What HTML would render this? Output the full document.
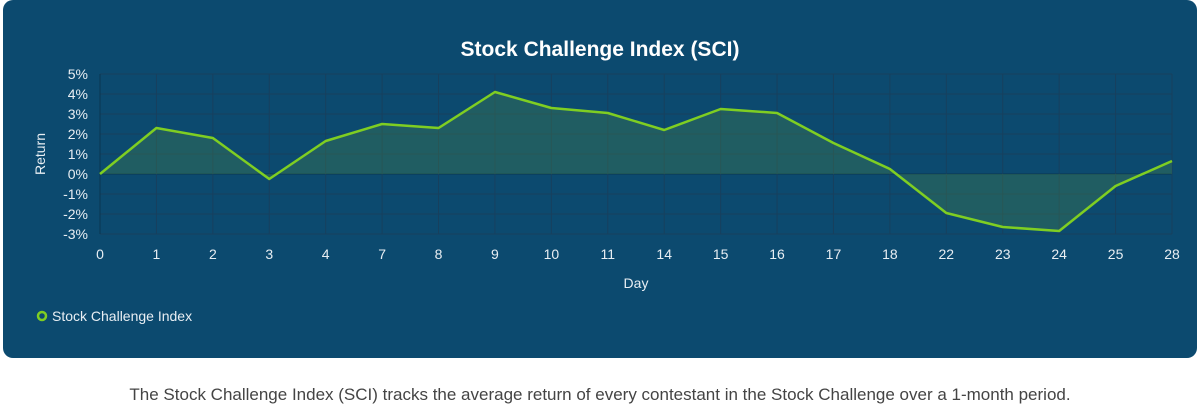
<!DOCTYPE html>
<html><head><meta charset="utf-8"><style>
html,body{margin:0;padding:0;background:#fff;width:1200px;height:406px;overflow:hidden;font-family:"Liberation Sans",sans-serif}
#card{position:absolute;left:3px;top:0;width:1194px;height:358px;background:#0c4a6f;border-radius:10px}
#caption{position:absolute;left:0;top:385px;width:1200px;text-align:center;font-size:17px;color:#444}
</style></head><body>
<div id="card"></div>
<svg id="chart" width="1200" height="370" style="position:absolute;left:0;top:0"></svg>
<div id="caption">The Stock Challenge Index (SCI) tracks the average return of every contestant in the Stock Challenge over a 1-month period.</div>
<script>
const categories=["0","1","2","3","4","7","8","9","10","11","14","15","16","17","18","22","23","24","25","28"];
const values=[0,2.3,1.8,-0.25,1.65,2.5,2.3,4.1,3.3,3.05,2.2,3.25,3.05,1.55,0.25,-1.95,-2.65,-2.85,-0.6,0.65];
const yTicks=[5,4,3,2,1,0,-1,-2,-3];
const NS="http://www.w3.org/2000/svg";
const svg=document.getElementById('chart');
const L=100,R=1172,T=74,B=234,yMax=5,yMin=-3;
const x=i=>L+i*(R-L)/(categories.length-1);
const y=v=>T+(yMax-v)*(B-T)/(yMax-yMin);
function mk(tag,a,parent){const e=document.createElementNS(NS,tag);for(const k in a)e.setAttribute(k,a[k]);(parent||svg).appendChild(e);return e;}
let t=mk('text',{x:600,y:56,'text-anchor':'middle',fill:'#fff','font-size':21,'font-weight':'bold'});
t.textContent='Stock Challenge Index (SCI)';


yTicks.forEach(v=>{
 const g=mk('line',{x1:L,x2:R,y1:y(v),y2:y(v),stroke:v===0?'#0a3550':'#17405e','stroke-width':1});
 
 
 const l=mk('text',{x:L-12,y:y(v)+5,'text-anchor':'end',fill:'#e8eef3','font-size':14});
 l.textContent=v+'%';
 
 
});
categories.forEach((c,i)=>{
 const g=mk('line',{x1:x(i),x2:x(i),y1:T,y2:B,stroke:i===0?'#0a3550':'#17405e','stroke-width':1});
 
 
 const l=mk('text',{x:x(i),y:B+25,'text-anchor':'middle',fill:'#e8eef3','font-size':14});
 l.textContent=c;
 
 
});
let yt=mk('text',{x:0,y:0,transform:'translate(45,154) rotate(-90)','text-anchor':'middle',fill:'#e8eef3','font-size':14});
yt.textContent='Return';


let xt=mk('text',{x:636,y:288,'text-anchor':'middle',fill:'#e8eef3','font-size':14});
xt.textContent='Day';


const pts=values.map((v,i)=>x(i)+','+y(v)).join(' ');
const area=mk('polygon',{points:x(0)+','+y(0)+' '+pts+' '+x(values.length-1)+','+y(0),fill:'rgba(80,140,70,0.3)'});


const line=mk('polyline',{points:pts,fill:'none',stroke:'#7fce22','stroke-width':2.5,'stroke-linejoin':'round'});


const lg=mk('circle',{cx:42,cy:316,r:4,fill:'none',stroke:'#7fce22','stroke-width':2.5});


const lt=mk('text',{x:52,y:321,fill:'#e8eef3','font-size':14});
lt.textContent='Stock Challenge Index';


</script>
</body></html>
